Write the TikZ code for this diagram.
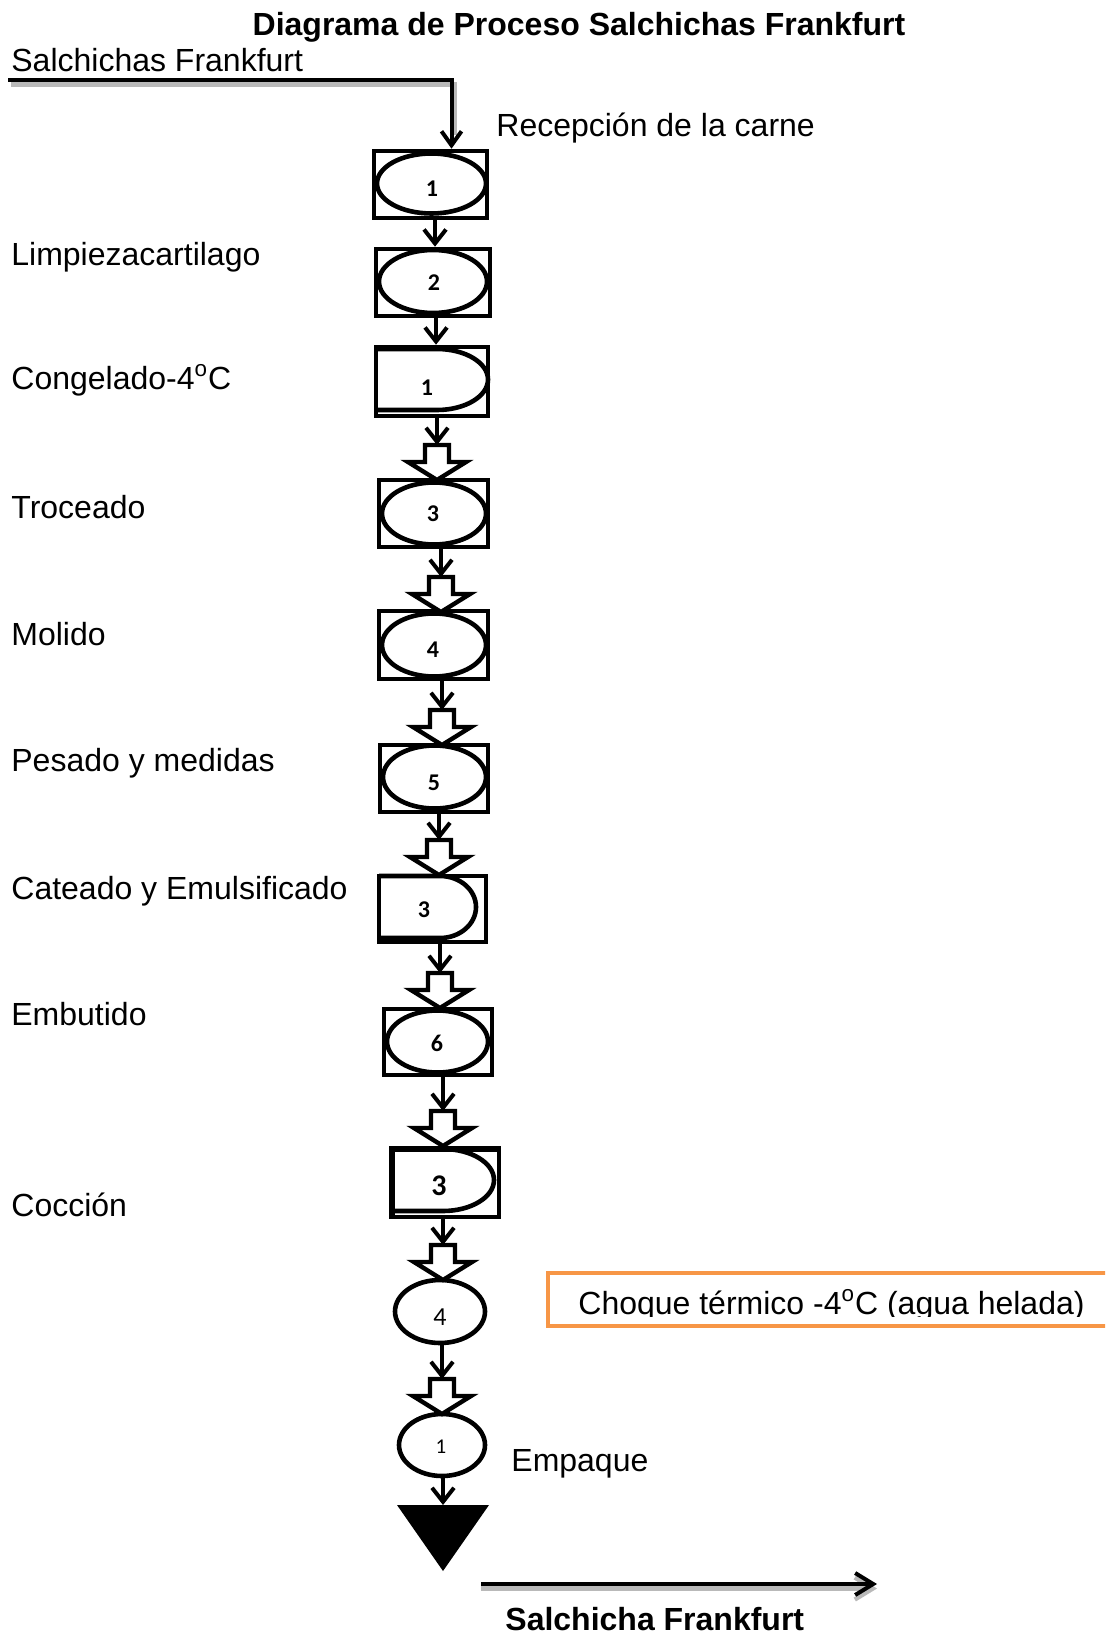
\documentclass[tikz,border=0pt]{standalone}
\usepackage{fontspec}
\setmainfont{Liberation Sans}
\newfontfamily\calib{Carlito}
\usetikzlibrary{arrows.meta,shapes.geometric}
\definecolor{ofc}{RGB}{247,150,70}
\tikzset{
  pics/blockarr/.style={code={
    \draw[line width=2.2pt, fill=white, line join=miter]
      (-12,0) -- (12,0) -- (12,17) -- (29,17) -- (0,35) -- (-29,17) -- (-12,17) -- cycle;
    \coordinate (-top) at (0,0);}}
}
\begin{document}
\begin{tikzpicture}[x=0.5pt,y=-0.5pt,
  lbl/.style={anchor=base west, inner sep=0pt, font=\fontsize{16pt}{19pt}\selectfont},
  boldlbl/.style={inner sep=0pt, font=\bfseries\fontsize{16pt}{19pt}\selectfont},
  boxr/.style={draw, line width=2.3pt, rectangle, inner sep=0pt},
  ell/.style={draw, line width=2.3pt, ellipse, inner sep=0pt},
  num/.style={inner sep=0pt, font=\calib\bfseries\fontsize{12pt}{14pt}\selectfont},
  thinarr/.style={line width=2pt, -{Straight Barb[length=7pt,width=11pt]}},
  mainln/.style={line width=2pt, black},
  shadowln/.style={line width=2.2pt, gray!55},
  dshape/.style={line width=2.3pt}
]
\useasboundingbox (0,0) rectangle (1105,1637);
\clip (0,0) rectangle (1105,1637);

% title and texts
\node[boldlbl, anchor=base] (title) at (579,36) {Diagrama de Proceso Salchichas Frankfurt};
\node[lbl] (tsrc) at (11,72) {Salchichas Frankfurt};
\node[lbl] (t1) at (496,137) {Recepción de la carne};
\node[lbl] (t2) at (11,265) {Limpiezacartilago};
\node[lbl] (t3) at (11,389) {Congelado-4\textsuperscript{o}C};
\node[lbl] (t4) at (11,518) {Troceado};
\node[lbl] (t5) at (11,645) {Molido};
\node[lbl] (t6) at (11,771) {Pesado y medidas};
\node[lbl] (t7) at (11,899) {Cateado y Emulsificado};
\node[lbl] (t8) at (11,1025) {Embutido};
\node[lbl] (t9) at (11,1216) {Cocción};
\node[lbl] (t11) at (511,1471) {Empaque};
\node[boldlbl, anchor=base west] (tout) at (505,1630) {Salchicha Frankfurt};

% boxes
\node[boxr, minimum width=56.5pt, minimum height=33.5pt] (b1) at (430.5,184.5) {};
\node[ell, minimum width=54.5pt, minimum height=30pt] (e1) at (431.5,183.5) {};
\node[num] (n1) at (432,189) {1};

\node[boxr, minimum width=57pt, minimum height=33.5pt] (b2) at (433,282.5) {};
\node[ell, minimum width=54pt, minimum height=31.5pt] (e2) at (433,281.5) {};
\node[num] (n2) at (434,283) {2};

\node[boxr, minimum width=56pt, minimum height=34.5pt] (b3) at (432,381.5) {};
\draw[dshape] (376,349) -- (437,349) arc[start angle=90, end angle=-90, x radius=25.5pt, y radius=15.25pt] -- (376,410);
\node[num] (n3) at (427,388) {1};

\node[boxr, minimum width=54.5pt, minimum height=33.5pt] (b4) at (433.5,513.5) {};
\node[ell, minimum width=52pt, minimum height=31pt] (e4) at (434,513.5) {};
\node[num] (n4) at (433,514) {3};

\node[boxr, minimum width=54.5pt, minimum height=34pt] (b5) at (433.5,645) {};
\node[ell, minimum width=52pt, minimum height=31.5pt] (e5) at (434,645) {};
\node[num] (n5) at (433,650) {4};

\node[boxr, minimum width=54pt, minimum height=33.5pt] (b6) at (434,778.5) {};
\node[ell, minimum width=51.5pt, minimum height=31.5pt] (e6) at (434.5,777) {};
\node[num] (n6) at (434,783) {5};

\node[boxr, minimum width=53.5pt, minimum height=33pt] (b7) at (432.5,909) {};
\draw[dshape] (379,876) -- (440,876) arc[start angle=90, end angle=-90, x radius=18pt, y radius=15.5pt] -- (379,938);
\node[num] (n7) at (424,910) {3};

\node[boxr, minimum width=54pt, minimum height=33pt] (b8) at (438,1042) {};
\node[ell, minimum width=50.5pt, minimum height=31pt] (e8) at (437.5,1041.5) {};
\node[num] (n8) at (437,1043) {6};

\node[boxr, minimum width=54pt, minimum height=34.5pt] (b9) at (445,1182.5) {};
\draw[line width=3.2pt] (392,1218) -- (392,1149) -- (499,1149);
\draw[dshape] (391,1149) -- (443,1149) arc[start angle=90, end angle=-90, x radius=25.5pt, y radius=15.5pt] -- (391,1211);
\node[num, font=\calib\bfseries\fontsize{15pt}{17pt}\selectfont] (n9) at (439,1186) {3};

\node[ell, minimum width=45pt, minimum height=31.5pt] (e10) at (440,1311.5) {};
\node[num, font=\calib\fontsize{13pt}{15pt}\selectfont] (n10) at (440,1317) {4};

\node[ell, minimum width=43pt, minimum height=31pt] (e11) at (442,1445) {};
\node[num, font=\calib\fontsize{10.5pt}{12pt}\selectfont] (n11) at (441,1447) {1};

% storage triangle
\fill (397,1505) -- (489,1505) -- (443,1571) -- cycle;
\coordinate (tri) at (443,1505);

% orange box
\node[draw=ofc, line width=2pt, rectangle, inner sep=0pt, minimum width=283.5pt, minimum height=26.5pt] (ob) at (831.5,1299) {};
\begin{scope}
\clip (550,1274) rectangle (1105,1316);
\node[lbl] (choque) at (578,1314) {Choque térmico -4\textsuperscript{o}C (agua helada)};
\end{scope}

% block arrows
\pic (ba1) at (437,445) {blockarr};
\pic (ba2) at (441,577) {blockarr};
\pic (ba3) at (442,710) {blockarr};
\pic (ba4) at (439,840) {blockarr};
\pic (ba5) at (440,973) {blockarr};
\pic (ba6) at (443,1111) {blockarr};
\pic (ba7) at (443,1245) {blockarr};
\pic (ba8) at (442,1379) {blockarr};

% thin arrows
\coordinate (c1) at ([xshift=2.25pt]b1.south);
\draw[thinarr] (c1) -- (c1 |- b2.north);
\coordinate (c2) at ([xshift=1.5pt]b2.south);
\draw[thinarr] (c2) -- (c2 |- b3.north);
\draw[thinarr] (b3.south -| ba1-top) -- (ba1-top);
\draw[thinarr] (b4.south -| ba2-top) -- (ba2-top);
\draw[thinarr] (b5.south -| ba3-top) -- (ba3-top);
\draw[thinarr] (b6.south -| ba4-top) -- (ba4-top);
\draw[thinarr] (b7.south -| ba5-top) -- (ba5-top);
\draw[thinarr] (b8.south -| ba6-top) -- (ba6-top);
\draw[thinarr] (b9.south -| ba7-top) -- (ba7-top);
\draw[thinarr] (e10.south -| ba8-top) -- (ba8-top);
\draw[thinarr] (e11.south -| tri) -- (tri);

% input line
\coordinate (src) at (8,80);
\coordinate (in1) at ([xshift=10.5pt]b1.north);
\draw[shadowln, transform canvas={shift={(1.5pt,-2.25pt)}}, shorten >=9pt] (src) -| (in1);
\draw[mainln, -{Straight Barb[length=7pt,width=10pt]}] (src) -| (in1);

% output arrow
\coordinate (o1) at (481,1584);
\coordinate (o2) at (877,1584);
\draw[shadowln, transform canvas={shift={(0pt,-2.25pt)}}, -{Straight Barb[length=9pt,width=11pt]}] (o1) -- (o2);
\draw[mainln, -{Straight Barb[length=9pt,width=11pt]}] (o1) -- (o2);
\end{tikzpicture}
\end{document}
